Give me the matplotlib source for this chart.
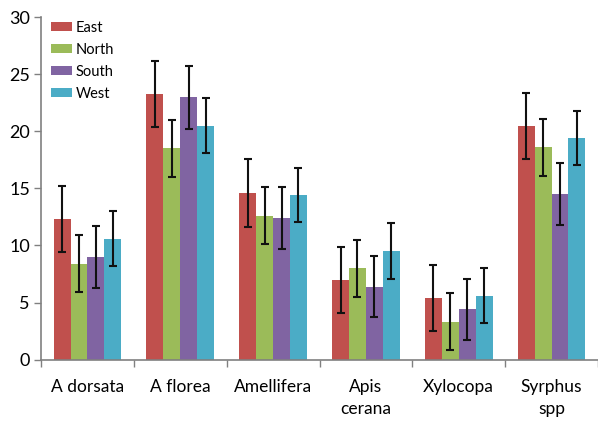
import numpy as np
import matplotlib
matplotlib.use('Agg')
from matplotlib import pyplot as plt

# data
species = ['A dorsata', 'A florea', 'Amellifera', 'Apis\ncerana', 'Xylocopa', 'Syrphus\nspp']
regions = ['East', 'North', 'South', 'West']

east = [12.3, 23.3, 14.6, 7.0, 5.4, 20.5]
north = [8.4, 18.5, 12.6, 8.0, 3.3, 18.6]
south = [9.0, 23.0, 12.4, 6.4, 4.4, 14.5]
west = [10.6, 20.5, 14.4, 9.5, 5.6, 19.4]

east_err = [2.9, 2.9, 2.95, 2.9, 2.9, 2.9]
north_err = [2.5, 2.5, 2.5, 2.5, 2.5, 2.5]
south_err = [2.7, 2.75, 2.75, 2.7, 2.7, 2.75]
west_err = [2.4, 2.4, 2.35, 2.45, 2.4, 2.35]

colors = ['#C0504D', '#9BBB59', '#8064A2', '#4BACC6']

plt.rcParams['font.family'] = ['Lato', 'DejaVu Sans']

fig = plt.figure(figsize=(5.98, 4.22), dpi=100)
ax = fig.add_axes([0.0686, 0.148, 0.9314, 0.811])

x = np.arange(len(species))
width = 0.182
series = [east, north, south, west]
errs = [east_err, north_err, south_err, west_err]
for i, (vals, err) in enumerate(zip(series, errs)):
    pos = x + (i - 1.5) * width
    ax.bar(pos, vals, width, color=colors[i], label=regions[i])
    ax.errorbar(pos, vals, yerr=err, fmt='none', ecolor='#111111',
                elinewidth=1.5, capsize=3, capthick=1.5)

ax.set_ylim(0, 30)
ax.set_xlim(-0.5, 5.457)
ax.set_yticks([0, 5, 10, 15, 20, 25, 30])

ax.set_xticks(x)
ax.set_xticklabels(species, linespacing=1.45)
ax.set_xticks(np.arange(-0.5, 6, 1), minor=True)
ax.tick_params(axis='x', which='major', length=0, pad=14, labelsize=12.5)
ax.tick_params(axis='x', which='minor', length=5, color='#808080', width=1)
ax.tick_params(axis='y', length=5, color='#808080', width=1, pad=3, labelsize=13)

for s in ['top', 'right']:
    ax.spines[s].set_visible(False)
for s in ['left', 'bottom']:
    ax.spines[s].set_color('#808080')
    ax.spines[s].set_linewidth(1.2)

ax.legend(loc='upper left', bbox_to_anchor=(0.0, 1.02), frameon=False,
          fontsize=10.5, handlelength=1.4, handleheight=0.6,
          labelspacing=0.55, handletextpad=0.3, borderaxespad=0.3)

plt.savefig('out.png', dpi=100)
